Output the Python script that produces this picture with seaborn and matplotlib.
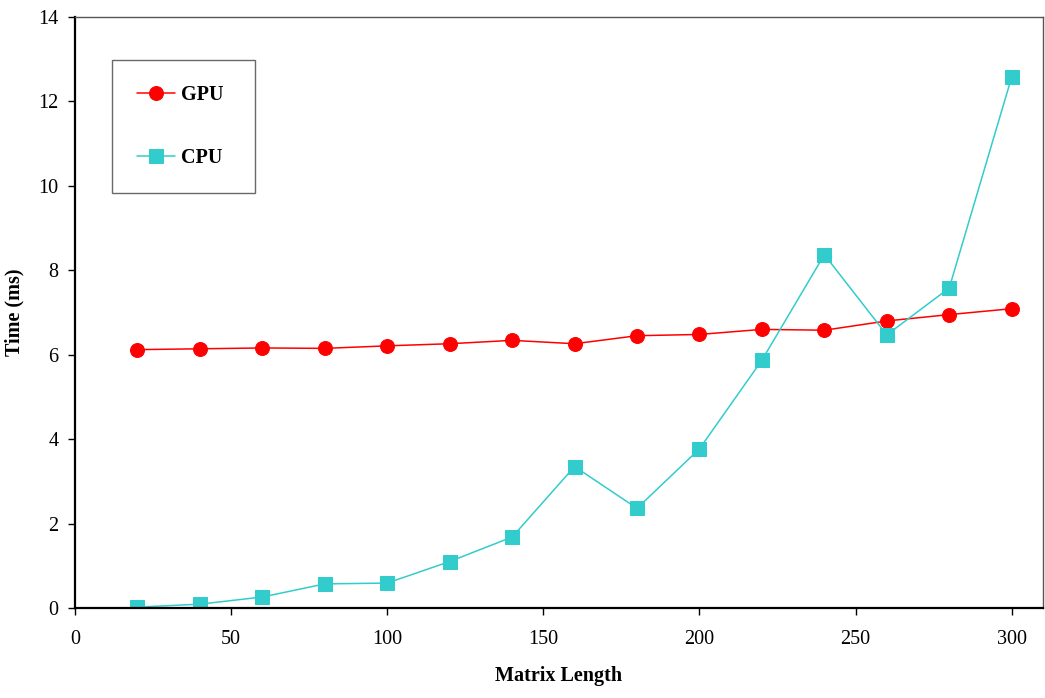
import matplotlib
matplotlib.use("Agg")
import matplotlib.pyplot as plt
import seaborn as sns
import pandas as pd

matrix_length = [20, 40, 60, 80, 100, 120, 140, 160, 180, 200, 220, 240, 260, 280, 300]
gpu_time = [6.12, 6.14, 6.16, 6.15, 6.21, 6.26, 6.34, 6.26, 6.45, 6.48, 6.60, 6.58, 6.80, 6.95, 7.09]
cpu_time = [0.02, 0.09, 0.26, 0.57, 0.59, 1.10, 1.68, 3.35, 2.36, 3.77, 5.87, 8.37, 6.47, 7.58, 12.58]
series_names = ["GPU", "CPU"]
x_ticks = [0, 50, 100, 150, 200, 250, 300]
y_ticks = [0, 2, 4, 6, 8, 10, 12, 14]

sns.set_theme(style="white")
plt.rcParams['font.family'] = ['Liberation Serif', 'DejaVu Serif']
plt.rcParams['text.color'] = 'black'
plt.rcParams['axes.labelcolor'] = 'black'
plt.rcParams['xtick.color'] = 'black'
plt.rcParams['ytick.color'] = 'black'

df = pd.DataFrame({
    "Matrix Length": matrix_length * 2,
    "Time": gpu_time + cpu_time,
    "Device": [series_names[0]] * len(gpu_time) + [series_names[1]] * len(cpu_time),
})

fig = plt.figure(figsize=(10.45, 6.98), dpi=100)
ax = fig.add_axes([0.0718, 0.129, 0.9262, 0.8466])

palette = {"GPU": "#ff0000", "CPU": "#33cccc"}
markers = {"GPU": "o", "CPU": "s"}
for name in series_names:
    sub = df[df["Device"] == name]
    sns.lineplot(data=sub, x="Matrix Length", y="Time", ax=ax, color=palette[name],
                 marker=markers[name], markersize=10, markeredgecolor=palette[name],
                 linewidth=1.1, label=name, sort=False)

ax.set_xlim(0, 310)
ax.set_ylim(0, 14)
ax.set_xticks(x_ticks)
ax.set_yticks(y_ticks)
ax.tick_params(axis="x", which="major", labelsize=14.5, direction="out",
               length=5, width=1, color="black", pad=11, bottom=True, labelcolor="black")
ax.tick_params(axis="y", which="major", labelsize=14.5, direction="out",
               length=5, width=1, color="black", pad=7, left=True, labelcolor="black")
ax.set_xlabel("Matrix Length", fontsize=14.5, fontweight="bold", labelpad=12, color="black")
ax.set_ylabel("Time (ms)", fontsize=14.5, fontweight="bold", labelpad=10, color="black")

for side in ["left", "bottom"]:
    ax.spines[side].set_color("black")
    ax.spines[side].set_linewidth(1.6)
for side in ["top", "right"]:
    ax.spines[side].set_color("#555555")
    ax.spines[side].set_linewidth(1.0)

leg = ax.legend(loc="upper left", bbox_to_anchor=(0.038, 0.704, 0.148, 0.223),
                mode="expand", frameon=True,
                fancybox=False, edgecolor="#444444", labelspacing=2.1,
                borderpad=1.25, handlelength=1.9, handletextpad=0.3,
                prop={"family": "Liberation Serif", "weight": "bold", "size": 14.5},
                borderaxespad=0)
leg.get_frame().set_linewidth(1.0)
for t in leg.get_texts():
    t.set_color("black")

fig.savefig("out.png", dpi=100, facecolor="white")
